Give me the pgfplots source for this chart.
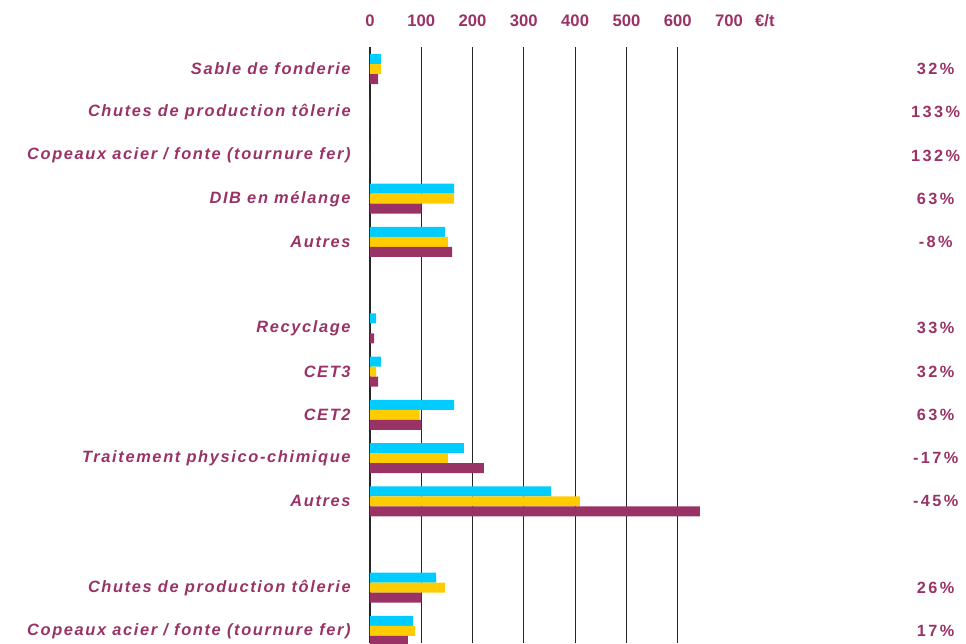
\documentclass[border=0pt]{standalone}
\usepackage{fontspec}
\setmainfont{Liberation Sans}
\newfontfamily\labfont[LetterSpace=10]{Liberation Sans}
\newfontfamily\pctfont[LetterSpace=15]{Liberation Sans}
\usepackage{pgfplots}
\pgfplotsset{compat=1.18}
\definecolor{cy}{HTML}{00CCFF}
\definecolor{ye}{HTML}{FFCC00}
\definecolor{ma}{HTML}{993366}
\begin{document}
\begin{tikzpicture}
\path[use as bounding box] (-277.5pt,35.25pt) rectangle (447pt,-447pt);
\begin{axis}[
  at={(0pt,0pt)}, anchor=north west,
  scale only axis, width=269.25pt, height=447pt,
  xmin=0, xmax=700, ymin=-0.51, ymax=13.28, y dir=reverse,
  xbar, bar width=7.5pt,
  axis line style={draw=none},
  xtick={0,100,...,600}, extra x ticks={700}, extra x tick style={grid=none},
  xmajorgrids, major grid style={color=black!85, line width=0.8pt},
  xticklabel pos=upper,
  major tick length=0pt,
  /pgf/number format/assume math mode=true,
  xticklabel style={font=\fontsize{12.5}{14}\selectfont\bfseries, text=ma, anchor=center, yshift=20pt},
  ytick={0,1,2,3,4,6,7,8,9,10,12,13},
  yticklabels={Sable de fonderie, Chutes de production  tôlerie, Copeaux acier / fonte (tournure fer), DIB en mélange, Autres, Recyclage, CET3, CET2, Traitement physico-chimique, Autres, Chutes de production  tôlerie, Copeaux acier / fonte (tournure fer)},
  yticklabel style={font=\labfont\fontsize{12.3}{14}\selectfont\bfseries\itshape, text=ma, anchor=east, xshift=-11pt},
  clip mode=individual,
]
\addplot[fill=cy, draw=none, bar shift=7.5pt] coordinates {(21,0) (0,1) (0,2) (164,3) (146,4) (12,6) (21,7) (164,8) (183,9) (353,10) (129,12) (84,13)};
\addplot[fill=ye, draw=none, bar shift=0pt] coordinates {(21,0) (0,1) (0,2) (164,3) (152,4) (0,6) (12,7) (97,8) (152,9) (409,10) (146,12) (88,13)};
\addplot[fill=ma, draw=none, bar shift=-7.5pt] coordinates {(16,0) (0,1) (0,2) (100,3) (160,4) (8,6) (16,7) (100,8) (222,9) (643,10) (100,12) (74,13)};
\node[font=\fontsize{12.5}{14}\selectfont\bfseries, text=ma] at (axis cs:770,-0.51) [yshift=20pt] {€/t};
\foreach \yy/\pp in {0/32,1/133,2/132,3/63,4/-8,6/33,7/32,8/63,9/-17,10/-45,12/26,13/17} {
  \edef\tmp{\noexpand\node[font=\noexpand\pctfont\noexpand\fontsize{12.2}{14}\noexpand\selectfont\noexpand\bfseries, text=ma] at (axis cs:1103,\yy) {\pp\noexpand\%};}
  \tmp
}
\end{axis}
\end{tikzpicture}
\end{document}
